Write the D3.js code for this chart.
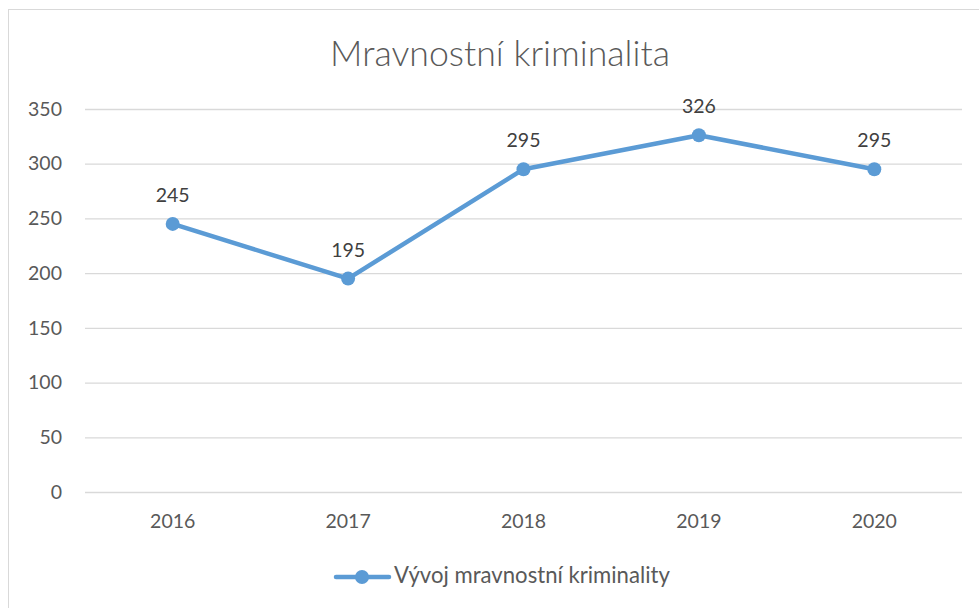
<!DOCTYPE html>
<html><head><meta charset="utf-8">
<script src="https://cdn.jsdelivr.net/npm/d3@7"></script>
<style>body{margin:0;background:#fff}svg{display:block}</style>
</head><body>
<svg id="c" width="979" height="608"></svg>
<script>
const categories = ["2016","2017","2018","2019","2020"];
const values = [245,195,295,326,295];
const yTicks = [0,50,100,150,200,250,300,350];
const title = "Mravnostní kriminalita";
const seriesName = "Vývoj mravnostní kriminality";

const svg = d3.select("#c");
const font = "Lato, 'Open Sans', sans-serif";
const blue = "#5b9bd5";
const fs = "19.5px";

svg.append("rect").attr("x",8.5).attr("y",9.5).attr("width",1000).attr("height",700)
  .attr("fill","#fff").attr("stroke","#d9d9d9").attr("stroke-width",1);

const x = d3.scaleBand().domain(categories).range([85,962]);
const y = d3.scaleLinear().domain([0,350]).range([492,109]);

const yAxis = d3.axisLeft(y).tickValues(yTicks).tickSize(-(962-85)).tickPadding(23);
const gy = svg.append("g").attr("transform","translate(85,0)").call(yAxis);
gy.select(".domain").remove();
gy.selectAll(".tick line").attr("stroke","#d9d9d9").attr("stroke-width",1.3);
gy.selectAll(".tick text").attr("fill","#595959").style("font-family",font).style("font-size",fs);

const xAxis = d3.axisBottom(x).tickSize(0).tickPadding(22);
const gx = svg.append("g").attr("transform","translate(0,492)").call(xAxis);
gx.select(".domain").remove();
gx.selectAll(".tick text").attr("fill","#595959").style("font-family",font).style("font-size",fs);

const cx = d => x(d) + x.bandwidth()/2;
const line = d3.line().x((d,i)=>cx(categories[i])).y(d=>y(d));
svg.append("path").datum(values).attr("d",line).attr("fill","none")
  .attr("stroke",blue).attr("stroke-width",4.5).attr("stroke-linejoin","round").attr("stroke-linecap","round");
svg.selectAll("circle.pt").data(values).enter().append("circle").attr("class","pt")
  .attr("cx",(d,i)=>cx(categories[i])).attr("cy",d=>y(d)).attr("r",7).attr("fill",blue);
svg.selectAll("text.lbl").data(values).enter().append("text").attr("class","lbl")
  .attr("x",(d,i)=>cx(categories[i])).attr("y",d=>y(d)-22).attr("text-anchor","middle")
  .attr("fill","#404040").style("font-family",font).style("font-size",fs).text(d=>d);

const t = svg.append("text").attr("x",500).attr("y",66).attr("text-anchor","middle")
  .attr("fill","#595959").style("font-family",font).style("font-size","28px").style("font-weight","300").text(title);
const tw = t.node().getComputedTextLength();
t.style("font-size",(28*340/tw)+"px");

const ly = 577;
svg.append("line").attr("x1",336).attr("x2",389).attr("y1",ly).attr("y2",ly)
  .attr("stroke",blue).attr("stroke-width",4.5).attr("stroke-linecap","round");
svg.append("circle").attr("cx",362).attr("cy",ly).attr("r",7).attr("fill",blue);
const lt = svg.append("text").attr("x",394).attr("y",ly+6).attr("fill","#595959")
  .style("font-family",font).style("font-size","18px").text(seriesName);
const lw = lt.node().getComputedTextLength();
lt.style("font-size",(18*276/lw)+"px");
</script>
</body></html>
